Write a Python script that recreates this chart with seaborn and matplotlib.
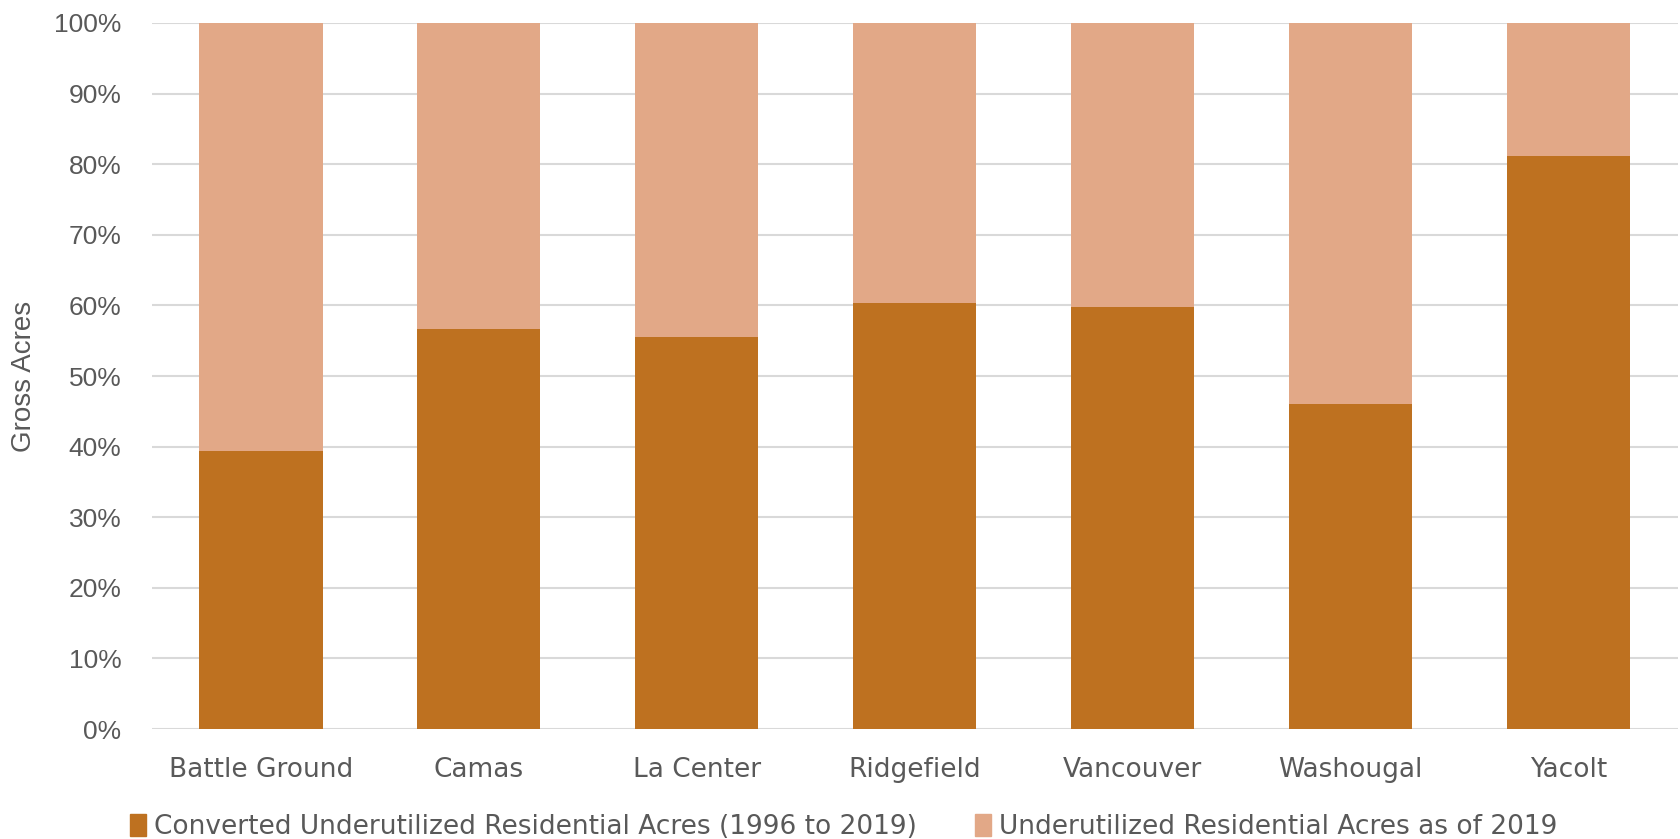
import pandas as pd
import seaborn as sns
import matplotlib.pyplot as plt
from matplotlib.patches import Patch
from matplotlib.ticker import PercentFormatter

# share of gross acres by city
cities = ['Battle Ground', 'Camas', 'La Center', 'Ridgefield',
          'Vancouver', 'Washougal', 'Yacolt']
converted = [39.4, 56.6, 55.5, 60.4, 59.8, 46.0, 81.2]
underutilized = [100 - v for v in converted]

dark = '#BE7120'
light = '#E2A887'
grey = '#595959'

df = pd.DataFrame({'City': cities, 'Converted': converted,
                   'Underutilized': underutilized})
df['Total'] = df['Converted'] + df['Underutilized']

sns.set_style('white')
plt.rcParams['font.family'] = ['DejaVu Sans']

fig = plt.figure(figsize=(16.81, 8.39), dpi=100)
ax = fig.add_axes([0.0904, 0.131, 0.9076, 0.8416])

# stacked bars: total first, converted on top of it
sns.barplot(data=df, x='City', y='Total', color=light, width=0.565,
            saturation=1, linewidth=0, ax=ax, zorder=2)
sns.barplot(data=df, x='City', y='Converted', color=dark, width=0.565,
            saturation=1, linewidth=0, ax=ax, zorder=3)

ax.set_ylim(0, 100)
ax.set_yticks(range(0, 101, 10))
ax.yaxis.set_major_formatter(PercentFormatter(decimals=0))
ax.grid(axis='y', color='#D9D9D9', linewidth=1.5, zorder=0)
ax.set_axisbelow(True)
for s in ax.spines.values():
    s.set_visible(False)

ax.tick_params(axis='y', labelsize=19, colors=grey, length=0, pad=22)
ax.tick_params(axis='x', labelsize=19, colors=grey, length=0, pad=20)
for t in ax.get_yticklabels():
    t.set_fontfamily(['Liberation Sans', 'DejaVu Sans'])
ax.set_xlabel('')
ax.set_ylabel('Gross Acres', fontsize=20, color=grey, labelpad=12,
              fontfamily=['Liberation Sans', 'DejaVu Sans'])

handles = [Patch(color=dark, label='Converted Underutilized Residential Acres (1996 to 2019)'),
           Patch(color=light, label='Underutilized Residential Acres as of 2019')]
leg = fig.legend(handles=handles, loc='lower center', ncol=2, frameon=False,
                 bbox_to_anchor=(0.502, -0.03), fontsize=19, handlelength=0.6,
                 handleheight=0.9, handletextpad=0.3, columnspacing=2.2)
for t in leg.get_texts():
    t.set_color(grey)

fig.savefig('out.png', dpi=100)
